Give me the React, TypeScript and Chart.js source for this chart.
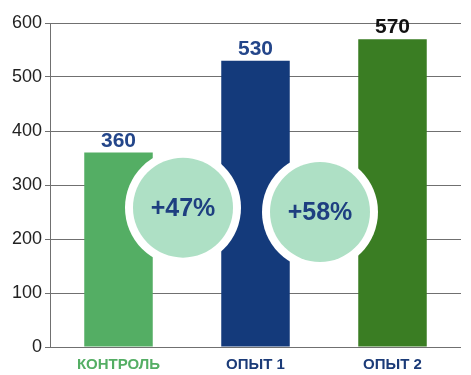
import React, { useEffect, useRef } from "react";
import { Chart, registerables } from "chart.js";

Chart.register(...registerables);

const categories = ["КОНТРОЛЬ", "ОПЫТ 1", "ОПЫТ 2"];
const values = [360, 530, 570];
const barColors = ["#54AE64", "#143A7B", "#3A7D23"];
const categoryLabelColors = ["#54AE64", "#1B3B78", "#1B3B78"];
const valueLabelColors = ["#24468A", "#24468A", "#111111"];
const yTicks = [0, 100, 200, 300, 400, 500, 600];
const increaseLabels = ["+47%", "+58%"];
const increaseCenterValues = [258, 250];

const overlayPlugin = {
  id: "overlay",
  afterDatasetsDraw(chart: any) {
    const ctx = chart.ctx;
    const xs = chart.scales.x;
    const ys = chart.scales.y;
    const meta = chart.getDatasetMeta(0);
    increaseLabels.forEach((txt, i) => {
      const cx = (xs.getPixelForValue(i) + xs.getPixelForValue(i + 1)) / 2 - 4;
      const cy = ys.getPixelForValue(increaseCenterValues[i]);
      ctx.save();
      ctx.beginPath();
      ctx.arc(cx, cy, 58, 0, Math.PI * 2);
      ctx.fillStyle = "#ffffff";
      ctx.fill();
      ctx.beginPath();
      ctx.arc(cx, cy, 50, 0, Math.PI * 2);
      ctx.fillStyle = "#AEE0C5";
      ctx.fill();
      ctx.fillStyle = "#1E3F80";
      ctx.font = "bold 25px 'Liberation Sans', Arial, sans-serif";
      ctx.textAlign = "center";
      ctx.textBaseline = "middle";
      ctx.fillText(txt, cx, cy + 1);
      ctx.restore();
    });
    meta.data.forEach((bar: any, i: number) => {
      ctx.save();
      ctx.fillStyle = valueLabelColors[i];
      ctx.font = "bold 21px 'Liberation Sans', Arial, sans-serif";
      ctx.textAlign = "center";
      ctx.textBaseline = "bottom";
      ctx.fillText(String(values[i]), bar.x, bar.y - 1);
      ctx.restore();
    });
  },
};

export default function App() {
  const ref = useRef<HTMLCanvasElement>(null);
  useEffect(() => {
    if (!ref.current) return;
    const chart = new Chart(ref.current, {
      type: "bar",
      data: {
        labels: categories,
        datasets: [
          {
            data: values,
            backgroundColor: barColors,
            barPercentage: 0.5,
            categoryPercentage: 1,
          },
        ],
      },
      options: {
        animation: false,
        responsive: true,
        maintainAspectRatio: false,
        layout: { padding: { top: 23, right: 10, left: 0, bottom: 0 } },
        plugins: { legend: { display: false }, tooltip: { enabled: false } },
        scales: {
          x: {
            grid: { display: false, drawTicks: false },
            border: { display: false },
            ticks: {
              color: categoryLabelColors,
              font: { family: "'Liberation Sans', Arial, sans-serif", size: 15, weight: "bold" },
              padding: 9,
            },
            afterFit(scale: any) {
              scale.height = 28;
            },
          },
          y: {
            min: 0,
            max: 600,
            afterBuildTicks(scale: any) {
              scale.ticks = yTicks.map((v) => ({ value: v }));
            },
            grid: { color: "#707070", lineWidth: 1, tickLength: 5, drawTicks: true },
            border: { display: true, color: "#707070", width: 1 },
            ticks: {
              color: "#222222",
              font: { family: "'Liberation Sans', Arial, sans-serif", size: 18 },
              padding: 3,
            },
            afterFit(scale: any) {
              scale.width = 50;
            },
          },
        },
      },
      plugins: [overlayPlugin],
    });
    return () => chart.destroy();
  }, []);
  return (
    <div style={{ position: "fixed", left: 0, top: 0, width: 471, height: 375, background: "#fff" }}>
      <canvas ref={ref} />
    </div>
  );
}
